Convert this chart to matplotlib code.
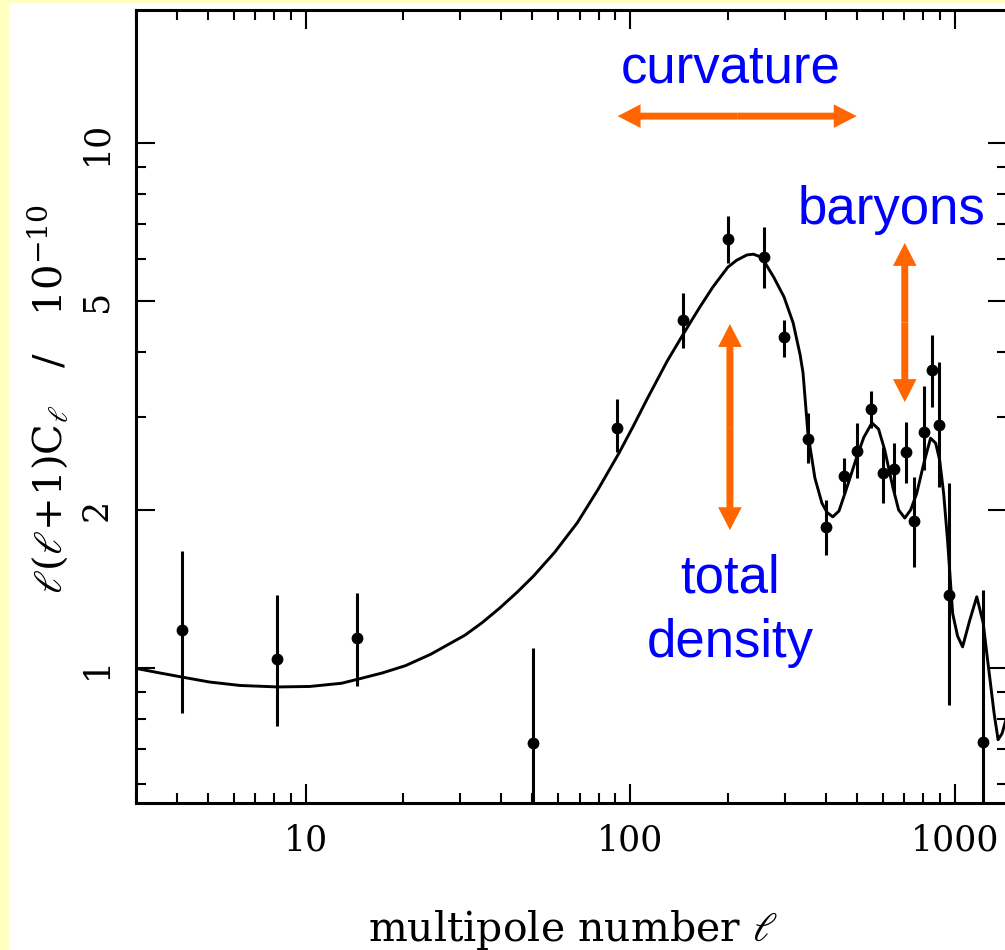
import numpy as np
import matplotlib
matplotlib.use("Agg")
import matplotlib.pyplot as plt
from matplotlib.patches import FancyArrowPatch, Rectangle, ArrowStyle

# measured band powers, l(l+1)C_l / 1e-10
ell = [4.15, 8.15, 14.4, 50.3, 91, 145.6, 200, 258, 298, 353, 401, 455, 499,
       552, 600, 649, 706, 748, 803, 850, 893, 959, 1219]
power = [1.18, 1.04, 1.14, 0.72, 2.87, 4.6, 6.56, 6.07, 4.27, 2.73, 1.857, 2.32,
         2.59, 3.11, 2.35, 2.39, 2.58, 1.905, 2.82, 3.69, 2.90, 1.377, 0.723]
err_hi = [1.67, 1.38, 1.39, 1.09, 3.25, 5.18, 7.26, 6.92, 4.6, 3.06, 2.09, 2.51,
          2.93, 3.37, 2.64, 2.68, 2.94, 2.31, 3.44, 4.31, 3.83, 2.25, 1.41]
# two bars run off the bottom of the plot
err_lo = [0.82, 0.776, 0.924, 0.556, 2.58, 4.07, 5.91, 5.29, 3.91, 2.46, 1.64, 2.15,
          2.30, 2.87, 2.06, 2.15, 2.25, 1.56, 2.38, 3.14, 2.21, 0.85, 0.556]

# model curve
model_ell = [3.0, 3.56, 4.15, 5.06, 6.28, 8.2, 10.3, 12.9, 14.6, 17.2, 20.3,
             24.3, 31.0, 35.0, 39.6, 44.9, 50.3, 58.5, 68.7, 79.7, 92.5, 102,
             113, 130, 146.6, 164, 180, 200, 213, 229, 240, 250, 258, 277, 298,
             318, 334, 341, 353, 371, 390, 404, 421, 440, 459, 479, 499, 525,
             556, 583, 609, 645, 672, 702, 732, 764, 803, 843, 874, 899, 925,
             951, 986, 1021, 1058, 1112, 1170, 1224, 1260, 1288, 1323, 1361,
             1400, 1450]
model_pow = [0.998, 0.978, 0.961, 0.94, 0.926, 0.92, 0.922, 0.935, 0.953, 0.978,
             1.01, 1.062, 1.155, 1.22, 1.30, 1.395, 1.495, 1.66, 1.89, 2.19,
             2.57, 2.88, 3.26, 3.84, 4.35, 4.87, 5.32, 5.80, 5.98, 6.12, 6.14,
             6.08, 5.97, 5.55, 5.09, 4.54, 3.95, 3.65, 2.80, 2.30, 2.06, 1.98,
             1.94, 1.99, 2.15, 2.33, 2.52, 2.75, 2.93, 2.85, 2.60, 2.21, 2.00,
             1.93, 2.00, 2.15, 2.45, 2.74, 2.68, 2.49, 2.15, 1.75, 1.27, 1.15,
             1.097, 1.23, 1.366, 1.22, 1.05, 0.94, 0.82, 0.73, 0.75, 0.81]

y_ticks = [1, 2, 5, 10]
y_ticklabels = ['1', '2', '5', '10']
x_ticks = [10, 100, 1000]
x_ticklabels = ['10', '100', '1000']

plt.rcParams['font.family'] = 'DejaVu Serif'
plt.rcParams['mathtext.fontset'] = 'dejavuserif'

fig = plt.figure(figsize=(10.05, 9.5), dpi=100, facecolor='#FFFFC0')
fig.patches.append(Rectangle((9 / 1005, 0), 1, 1 - 3 / 950, transform=fig.transFigure,
                             facecolor='white', edgecolor='none', zorder=-10))

W, H = 1005, 950
ax = fig.add_axes([136 / W, 1 - 803 / H, (1007 - 136) / W, (803 - 10) / H])
ax.set_facecolor('none')
ax.set_xscale('log')
ax.set_yscale('log')
ax.set_xlim(3.0, 1450)
ax.set_ylim(0.553, 17.92)

ax.plot(model_ell, model_pow, color='k', lw=2.1, solid_joinstyle='round')
ax.vlines(ell, err_lo, err_hi, color='k', lw=2.2)
ax.plot(ell, power, 'o', color='k', ms=7.5)

ax.set_xticks(x_ticks)
ax.set_xticklabels(x_ticklabels)
ax.set_yticks(y_ticks)
ax.set_yticklabels(y_ticklabels)
ax.tick_params(which='both', direction='in', top=True, right=True, width=1.5)
ax.tick_params(which='major', length=14, labelsize=25)
ax.tick_params(axis='x', which='major', pad=15)
ax.tick_params(axis='y', which='major', pad=16)
ax.tick_params(which='minor', length=7.5)
plt.setp(ax.get_yticklabels(), rotation=90, va='center')
for s in ax.spines.values():
    s.set_linewidth(2.2)

ax.set_xlabel(r'multipole number $\ell$', fontsize=29.5)
ax.xaxis.set_label_coords(0.502, -0.132)
ax.set_ylabel(r'$\ell(\ell\!+\!1)\mathrm{C}_{\ell}$   /   $10^{-10}$', fontsize=29)
ax.yaxis.set_label_coords(-0.076, 0.51)

# annotations
orange = '#FF6600'
blue = '#0000FF'
style = ArrowStyle('simple', head_length=16.5, head_width=17, tail_width=5)


def double_arrow(a, b):
    mid = (np.sqrt(a[0] * b[0]), np.sqrt(a[1] * b[1]))
    for end in (a, b):
        ax.add_patch(FancyArrowPatch(mid, end, arrowstyle=style, mutation_scale=1,
                                     color=orange, lw=0, shrinkA=0, shrinkB=0,
                                     zorder=4))


double_arrow((91.5, 11.25), (499, 11.25))
double_arrow((702, 6.45), (702, 3.21))
double_arrow((203, 4.52), (203, 1.83))

tfont = dict(family='Liberation Sans', fontsize=38, color=blue, ha='center',
             va='baseline')
ax.text(204.7, 13.06, 'curvature', **tfont)
ax.text(638, 7.01, 'baryons', **tfont)
ax.text(203, 1.39, 'total', **tfont)
ax.text(203, 1.05, 'density', **tfont)

fig.savefig('out.png', dpi=100, facecolor=fig.get_facecolor())
